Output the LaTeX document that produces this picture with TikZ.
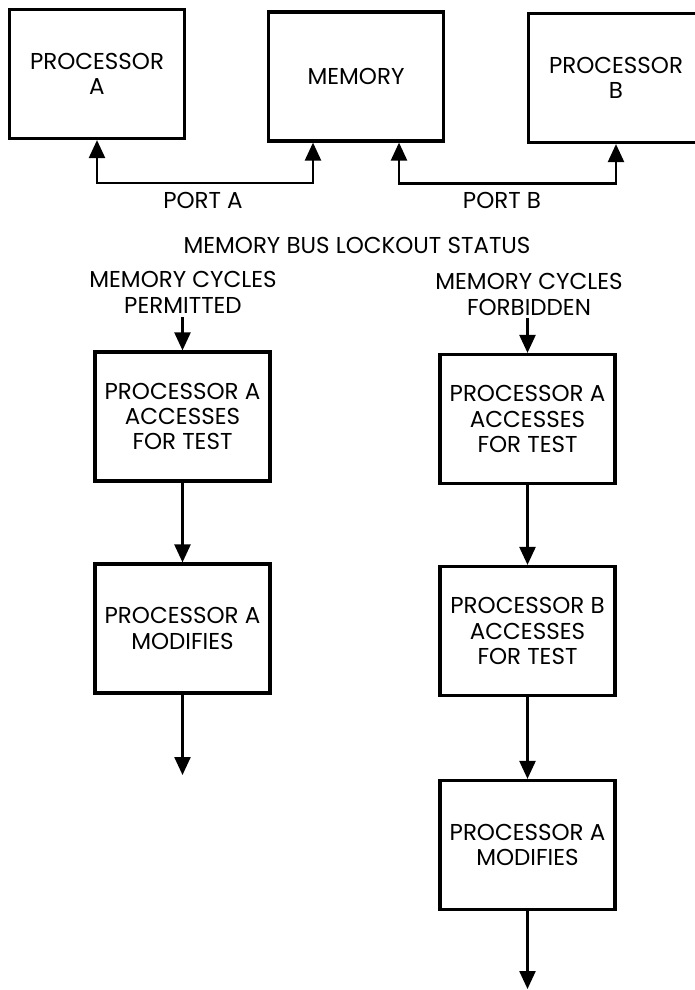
\documentclass[tikz,border=0pt]{standalone}
\usepackage{fontspec}
\setmainfont{Poppins}
\usetikzlibrary{arrows.meta,calc}
\newcommand\diafont{\fontsize{11.5}{12.7}\selectfont}
\begin{document}
\begin{tikzpicture}[x=0.5pt,y=-0.5pt,
  box/.style={draw, line width=1.6pt, minimum width=87.5pt, minimum height=64.5pt,
              inner sep=0pt, align=center, font=\diafont},
  lbl/.style={align=center, font=\diafont, inner sep=0pt},
  conn/.style={line width=1.2pt, -{Triangle[length=9pt,width=8pt]}},
  bus/.style={line width=1.2pt, {Triangle[length=9pt,width=8pt]}-{Triangle[length=9pt,width=8pt]}}]
\useasboundingbox (0,0) rectangle (695,990);
% top row
\node[box] (PA) at (97,74) {PROCESSOR\\A};
\node[box] (MEM) at (356,76.5) {MEMORY};
\node[box] (PB) at (616,78) {PROCESSOR\\B};
\node[lbl] (portA) at (203,200) {PORT A};
\node[lbl] (portB) at (502,200) {PORT B};
\draw[bus] (PA.south) -- ++(0,43) -| ([xshift=-21.5pt]MEM.south);
\draw[bus] ([xshift=21.5pt]MEM.south) -- ++(0,41) -| (PB.south);
% status headings
\node[lbl] (status) at (357,245) {MEMORY BUS LOCKOUT STATUS};
\node[lbl] (perm) at (183,292.5) {MEMORY CYCLES\\PERMITTED};
\node[lbl] (forb) at (529,294.5) {MEMORY CYCLES\\FORBIDDEN};
% left column
\node[box] (L1) at (182.5,416.5) {PROCESSOR A\\ACCESSES\\FOR TEST};
\node[box] (L2) at (182.5,628.5) {PROCESSOR A\\MODIFIES};
\coordinate (s1) at (182.5,317);
\coordinate (e1) at (182.5,775);
\draw[conn] (s1) -- (L1.north);
\draw[conn] (L1.south) -- (L2.north);
\draw[conn] (L2.south) -- (e1);
% right column
\node[box] (R1) at (527.5,419) {PROCESSOR A\\ACCESSES\\FOR TEST};
\node[box] (R2) at (527.5,631) {PROCESSOR B\\ACCESSES\\FOR TEST};
\node[box] (R3) at (527.5,845) {PROCESSOR A\\MODIFIES};
\coordinate (s2) at (527.5,318);
\coordinate (e2) at (527.5,989);
\draw[conn] (s2) -- (R1.north);
\draw[conn] (R1.south) -- (R2.north);
\draw[conn] (R2.south) -- (R3.north);
\draw[conn] (R3.south) -- (e2);
\end{tikzpicture}
\end{document}
